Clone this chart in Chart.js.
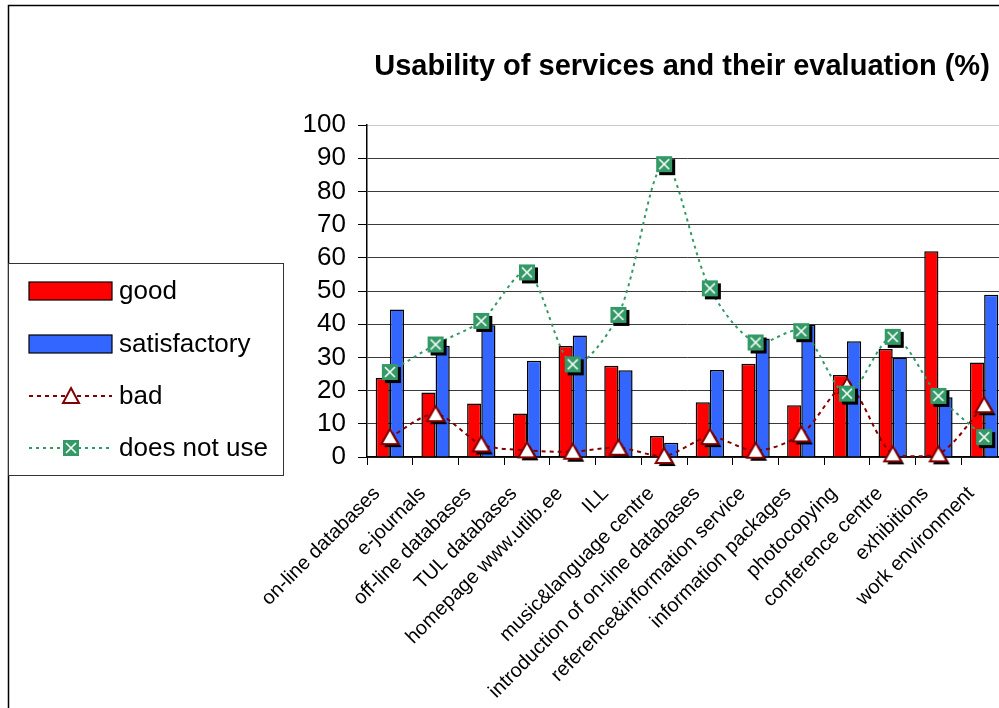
<!DOCTYPE html>
<html>
<head>
<meta charset="utf-8">
<script src="https://cdn.jsdelivr.net/npm/chart.js@4.4.1/dist/chart.umd.min.js"></script>
<style>
  html, body { margin: 0; padding: 0; background: #fff; overflow: hidden; }
  canvas { display: block; }
</style>
</head>
<body>
<!-- the plot runs a few pixels past the visible right edge -->
<canvas id="usability-chart" width="1007" height="708"></canvas>
<script>
const categories = [
  'on-line databases', 'e-journals', 'off-line databases', 'TUL databases',
  'homepage www.utlib.ee', 'ILL', 'music&language centre',
  'introduction of on-line databases', 'reference&information service',
  'information packages', 'photocopying', 'conference centre', 'exhibitions',
  'work environment'
];
const good = [23.8, 19.4, 16.1, 13.1, 33.4, 27.5, 6.3, 16.5, 28.1, 15.6, 24.7, 32.5, 62.0, 28.5];
const satisfactory = [44.4, 33.5, 39.7, 29.0, 36.6, 26.1, 4.3, 26.2, 35.7, 39.8, 34.9, 30.0, 18.0, 48.9];
const bad = [6.0, 12.9, 3.8, 2.0, 1.6, 2.8, 0.3, 6.0, 1.9, 6.8, 21.4, 0.8, 0.8, 15.6];
const doesNotUse = [25.6, 33.9, 41.0, 55.6, 27.9, 42.8, 88.2, 50.8, 34.5, 37.9, 19.1, 36.2, 18.4, 6.0];
const yTicks = [0, 10, 20, 30, 40, 50, 60, 70, 80, 90, 100];

const FONT = '"Liberation Sans", Arial, sans-serif';
const RED = '#ff0000';
const BLUE = '#3366ff';
const DARK_RED = '#800000';
const GREEN = '#339966';

// marker images with a hard black drop shadow
function triangleMarker() {
  const c = document.createElement('canvas');
  c.width = 26; c.height = 26;
  const g = c.getContext('2d');
  const tri = (dx, dy) => {
    g.beginPath();
    g.moveTo(13 + dx, 5 + dy);
    g.lineTo(21.5 + dx, 20 + dy);
    g.lineTo(4.5 + dx, 20 + dy);
    g.closePath();
  };
  tri(3, 3); g.fillStyle = '#000'; g.fill();
  tri(0, 0); g.fillStyle = '#fff'; g.fill();
  g.lineWidth = 2; g.strokeStyle = DARK_RED; g.stroke();
  return c;
}

function squareMarker() {
  const c = document.createElement('canvas');
  c.width = 24; c.height = 24;
  const g = c.getContext('2d');
  g.fillStyle = '#000';
  g.fillRect(7, 7, 16, 16);
  g.fillStyle = GREEN;
  g.fillRect(4, 4, 16, 16);
  g.strokeStyle = '#fff';
  g.lineWidth = 1.6;
  g.beginPath();
  g.moveTo(7, 7); g.lineTo(17, 17);
  g.moveTo(17, 7); g.lineTo(7, 17);
  g.stroke();
  return c;
}

const triImg = triangleMarker();
const sqImg = squareMarker();

// outer frame, title and the boxed legend on the left
const decorations = {
  id: 'decorations',
  beforeDraw(chart) {
    const ctx = chart.ctx;
    ctx.save();
    ctx.fillStyle = '#fff';
    ctx.fillRect(0, 0, chart.width, chart.height);
    ctx.restore();
  },
  afterDraw(chart) {
    const ctx = chart.ctx;
    ctx.save();
    ctx.strokeStyle = '#000';
    ctx.lineWidth = 1.5;
    ctx.strokeRect(8.5, 5.5, 1200, 1200);

    ctx.fillStyle = '#000';
    ctx.font = 'bold 29px ' + FONT;
    ctx.textAlign = 'center';
    ctx.textBaseline = 'alphabetic';
    ctx.fillText('Usability of services and their evaluation (%)', 682, 75);

    ctx.fillStyle = '#fff';
    ctx.fillRect(8, 263, 275, 212);
    ctx.strokeStyle = '#333';
    ctx.lineWidth = 1;
    ctx.strokeRect(8.5, 263.5, 275, 212);

    const ds = chart.data.datasets;
    const rows = [291, 344, 396, 448];
    ctx.font = '26px ' + FONT;
    ctx.textAlign = 'left';
    ctx.textBaseline = 'middle';
    ds.forEach((d, i) => {
      const y = rows[i];
      if (d.type === 'bar') {
        ctx.fillStyle = d.backgroundColor;
        ctx.fillRect(29, y - 9, 83, 18);
        ctx.strokeStyle = '#000';
        ctx.lineWidth = 1.2;
        ctx.strokeRect(29, y - 9, 83, 18);
      } else {
        ctx.strokeStyle = d.borderColor;
        ctx.lineWidth = 2;
        ctx.setLineDash(d.borderDash);
        ctx.beginPath();
        ctx.moveTo(29, y); ctx.lineTo(112, y);
        ctx.stroke();
        ctx.setLineDash([]);
        if (d.pointStyle === triImg) {
          ctx.fillStyle = '#fff';
          ctx.beginPath();
          ctx.moveTo(71, y - 8); ctx.lineTo(79, y + 7); ctx.lineTo(63, y + 7);
          ctx.closePath();
          ctx.fill();
          ctx.strokeStyle = DARK_RED;
          ctx.lineWidth = 2;
          ctx.stroke();
        } else {
          ctx.fillStyle = GREEN;
          ctx.fillRect(63, y - 8, 16, 16);
          ctx.strokeStyle = '#fff';
          ctx.lineWidth = 1.6;
          ctx.beginPath();
          ctx.moveTo(66, y - 5); ctx.lineTo(76, y + 5);
          ctx.moveTo(76, y - 5); ctx.lineTo(66, y + 5);
          ctx.stroke();
        }
      }
      ctx.fillStyle = '#000';
      ctx.fillText(d.label, 119, y + 1);
    });
    ctx.restore();
  }
};

const data = {
  labels: categories,
  datasets: [
    {
      type: 'bar',
      label: 'good',
      data: good,
      backgroundColor: RED,
      borderColor: '#000',
      borderWidth: 1.5,
      order: 2,
    },
    {
      type: 'bar',
      label: 'satisfactory',
      data: satisfactory,
      backgroundColor: BLUE,
      borderColor: '#000',
      borderWidth: 1.5,
      order: 2,
    },
    {
      type: 'line',
      label: 'bad',
      data: bad,
      borderColor: DARK_RED,
      borderWidth: 2,
      borderDash: [4, 4],
      tension: 0.3,
      fill: false,
      pointStyle: triImg,
      clip: false,
      order: 1,
    },
    {
      type: 'line',
      label: 'does not use',
      data: doesNotUse,
      borderColor: GREEN,
      borderWidth: 2,
      borderDash: [3, 4],
      tension: 0.3,
      fill: false,
      pointStyle: sqImg,
      clip: false,
      order: 0,
    },
  ],
};

const config = {
  type: 'bar',
  data: data,
  plugins: [decorations],
  options: {
    responsive: false,
    animation: false,
    devicePixelRatio: 1,
    layout: { autoPadding: false, padding: { top: 125, right: 0, bottom: 0, left: 0 } },
    datasets: {
      bar: { categoryPercentage: 0.62, barPercentage: 1.0 },
    },
    plugins: {
      legend: { display: false },
      title: { display: false },
      tooltip: { enabled: false },
    },
    scales: {
      x: {
        offset: true,
        grid: {
          offset: true,
          drawOnChartArea: false,
          tickLength: 8,
          color: '#000',
          tickColor: '#000',
        },
        border: { color: '#000', width: 1.5 },
        ticks: {
          color: '#000',
          font: { family: FONT, size: 20 },
          minRotation: 45,
          maxRotation: 45,
          autoSkip: false,
          padding: 17,
          labelOffset: -13,
        },
        afterFit(scale) {
          scale.height = 251;
          scale.paddingLeft = 0;
          scale.paddingRight = 0;
        },
      },
      y: {
        min: 0,
        max: 100,
        afterBuildTicks(scale) { scale.ticks = yTicks.map(v => ({ value: v })); },
        grid: {
          color: ctx => (ctx.tick && ctx.tick.value === 100 ? '#c8c8c8' : '#3a3a3a'),
          tickColor: '#000',
          tickLength: 9,
          lineWidth: 1,
        },
        border: { color: '#000', width: 1.5 },
        ticks: {
          color: '#000',
          font: { family: FONT, size: 26 },
          padding: 12,
          autoSkip: false,
        },
        afterFit(scale) { scale.width = 367; },
      },
    },
  },
};

new Chart(document.getElementById('usability-chart'), config);
</script>
</body>
</html>
